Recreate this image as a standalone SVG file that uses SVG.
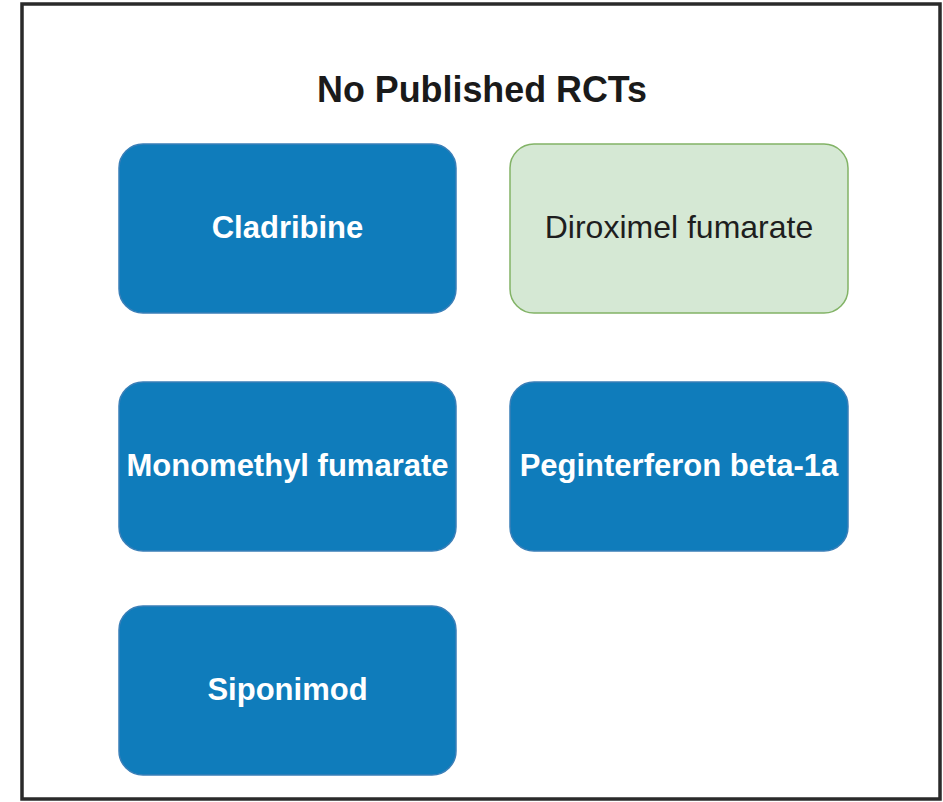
<svg xmlns="http://www.w3.org/2000/svg" width="943" height="802" viewBox="0 0 943 802">
  <style>
    .blue { fill: #0F7CBB; stroke: #3A7FB8; stroke-width: 1.5; }
    .green { fill: #D5E8D4; stroke: #82B366; stroke-width: 1.5; }
    .lbl { font-family: "Liberation Sans", Arial, sans-serif; font-size: 31px; font-weight: bold; fill: #FFFFFF; text-anchor: middle; }
    .lbl2 { font-family: "Liberation Sans", Arial, sans-serif; font-size: 32px; fill: #1E1E1E; text-anchor: middle; }
    .title { font-family: "Liberation Sans", Arial, sans-serif; font-size: 36px; font-weight: bold; fill: #1A1A1A; text-anchor: middle; }
  </style>
  <rect x="0" y="0" width="943" height="802" fill="#FFFFFF"/>
  <g id="frame">
    <rect x="22" y="4" width="918" height="795" fill="#FFFFFF" stroke="#2A2A2A" stroke-width="3.5"/>
    <text class="title" x="482" y="102" textLength="330" lengthAdjust="spacingAndGlyphs">No Published RCTs</text>
  </g>
  <g id="connectors"/>
  <g id="cladribine">
    <rect class="blue" x="119" y="144" width="337" height="169" rx="24" ry="24"/>
    <text class="lbl" x="287.5" y="238">Cladribine</text>
  </g>
  <g id="diroximel">
    <rect class="green" x="510" y="144" width="338" height="169" rx="24" ry="24"/>
    <text class="lbl2" x="679" y="238">Diroximel fumarate</text>
  </g>
  <g id="monomethyl">
    <rect class="blue" x="119" y="382" width="337" height="169" rx="24" ry="24"/>
    <text class="lbl" x="287.5" y="476">Monomethyl fumarate</text>
  </g>
  <g id="peginterferon">
    <rect class="blue" x="510" y="382" width="338" height="169" rx="24" ry="24"/>
    <text class="lbl" x="679" y="476">Peginterferon beta-1a</text>
  </g>
  <g id="siponimod">
    <rect class="blue" x="119" y="606" width="337" height="169" rx="24" ry="24"/>
    <text class="lbl" x="287.5" y="700">Siponimod</text>
  </g>
</svg>
